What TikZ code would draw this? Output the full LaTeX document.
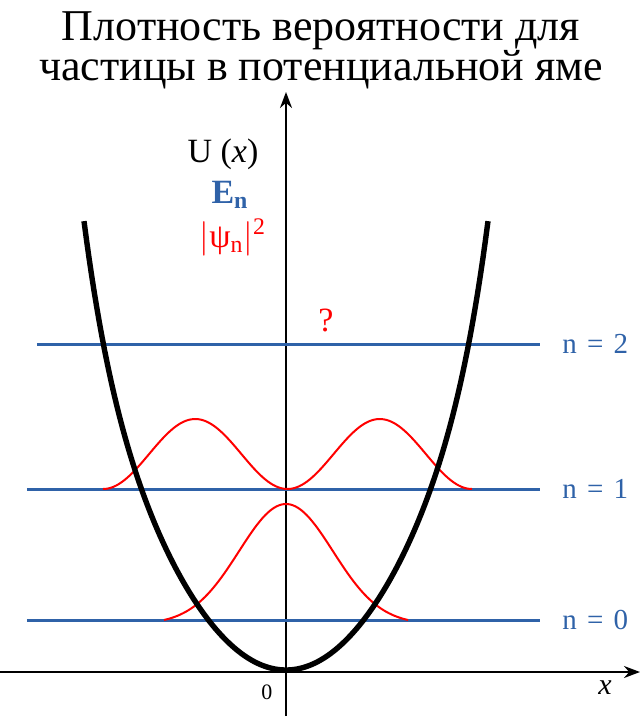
\documentclass[tikz,border=0pt]{standalone}
\usepackage{fontspec}
\setmainfont{Liberation Serif}
\usepackage{tikz}
\usetikzlibrary{arrows.meta,positioning}
\definecolor{lvlblue}{RGB}{47,98,168}

\begin{document}
\begin{tikzpicture}[x=0.5pt,y=-0.5pt,
  axis/.style={line width=1.1pt,-{Stealth[length=8pt,width=6pt]}},
  level/.style={lvlblue,line width=1.5pt},
  prob/.style={red,line width=1pt},
  well/.style={black,line width=2.7pt,line join=round},
  lbl/.style={inner sep=0pt}]
\useasboundingbox (0,0) rectangle (643,720);
% title
\node[lbl,anchor=base,font=\fontsize{22}{24}\selectfont] (title1) at (321,40) {Плотность вероятности для};
\node[lbl,anchor=base,font=\fontsize{22}{24}\selectfont] (title2) at (321,80) {частицы в потенциальной яме};
% axes
\coordinate (ybot) at (286,716);
\coordinate (ytop) at (286,92);
\coordinate (xleft) at (0,672);
\coordinate (xright) at (640,672);
\draw[axis] (ybot) -- (ytop);
\draw[axis] (xleft) -- (xright);
\node[lbl,font=\fontsize{11}{12}\selectfont] (zero) at (267,692) {0};
\node[lbl,font=\fontsize{15}{16}\selectfont\itshape] (xlab) at (605,688) {x};
% energy levels
\foreach \n/\y/\xs in {0/620/27,1/489/27,2/344/37} {
  \coordinate (lev\n a) at (\xs,\y);
  \coordinate (lev\n b) at (540,\y);
  \draw[level] (lev\n a) -- (lev\n b);
  \node[lbl,anchor=west,lvlblue,font=\fontsize{14.5}{16}\selectfont] (name\n) at (562,\y) {n\hspace{0.35em}=\hspace{0.35em}\n};
}
% probability densities
\draw[prob] plot[domain=-122:122,samples=90] ({286+\x},{620-116*(exp(-(\x*\x)/4418)-0.0344)/(1-0.0344)});
\draw[prob] plot[domain=0:369,samples=140] ({103+\x},{489-70*pow(sin(\x/184.5*180),2)});
% potential well
\draw[well] plot[domain=-202:202,samples=160] ({286+\x},{670-(0.0911*\x)*(0.0911*\x)-50*pow(abs(\x/183)+0.0001,8)});
% legend
\node[lbl,anchor=base,font=\fontsize{17}{18}\selectfont] (ulab) at (223,162) {U (\textit{x})};
\node[lbl,anchor=base,lvlblue,font=\fontsize{17}{18}\selectfont\bfseries] (elab) at (230,203) {E\textsubscript{n}};
\node[lbl,anchor=base,red,font=\fontsize{17}{18}\selectfont] (plab) at (233,247) {$\big|$ψ\textsubscript{n}$\big|$\textsuperscript{2}};
\node[lbl,red,font=\fontsize{17}{18}\selectfont] (quest) at (326,320) {?};
\end{tikzpicture}
\end{document}
